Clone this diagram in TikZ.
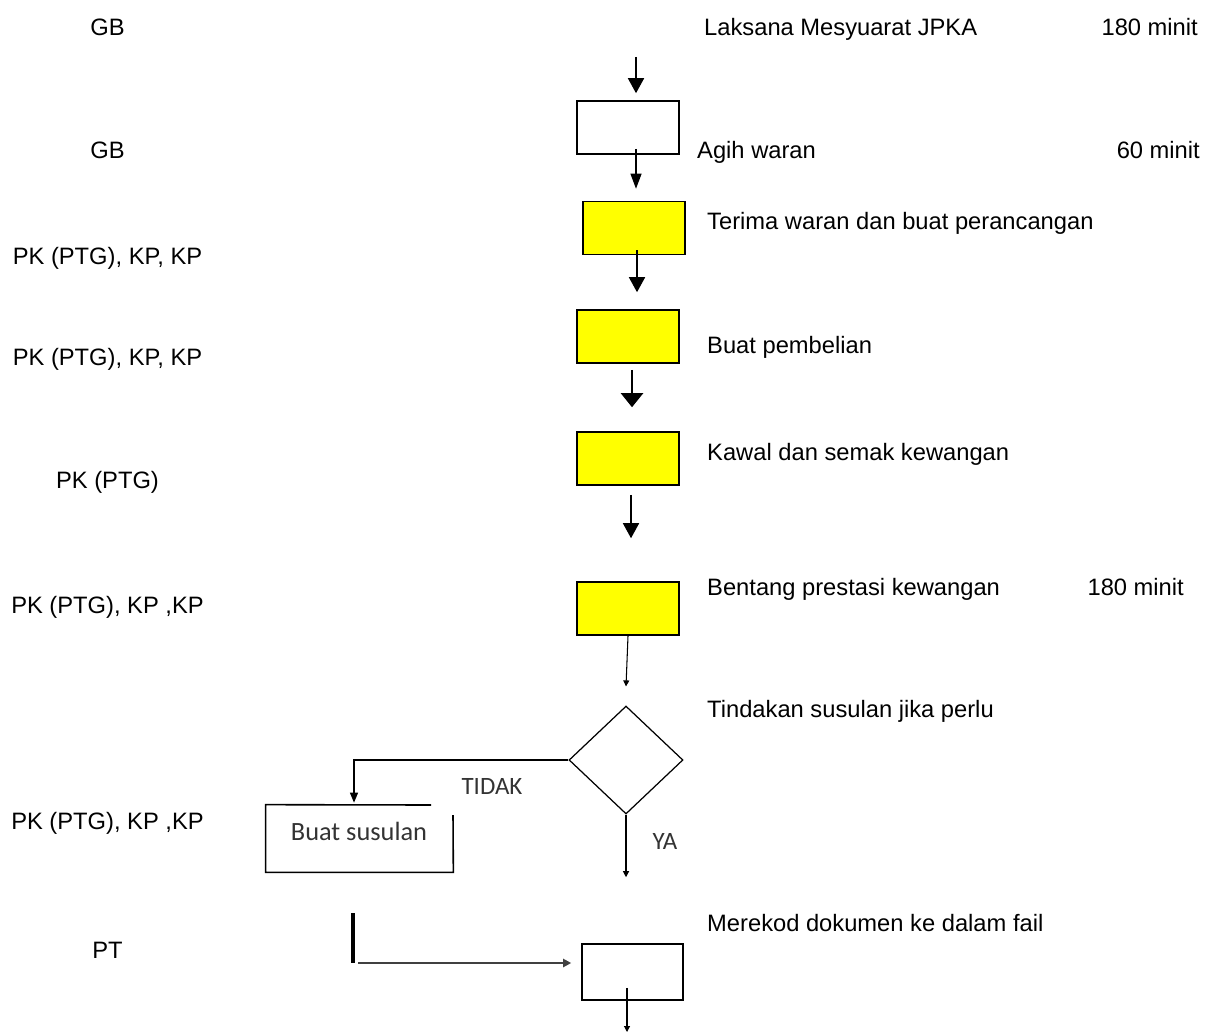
\documentclass[tikz,border=0pt]{standalone}
\usepackage{fontspec}
\setmainfont{Liberation Sans}
\newfontfamily\calibrifont{Carlito}
\usetikzlibrary{positioning,arrows.meta,calc,shapes.geometric}
\definecolor{boxyellow}{HTML}{FFFF00}
\definecolor{scangray}{HTML}{333333}
\definecolor{feedgray}{HTML}{404040}

\begin{document}
\begin{tikzpicture}[x=0.02cm,y=-0.02cm,
    font=\fontsize{13.5}{16}\selectfont,
    stepbox/.style={draw=black, line width=0.9pt, minimum width=2.04cm, minimum height=1.06cm, inner sep=0pt},
    yellowbox/.style={stepbox, fill=boxyellow},
    who/.style={anchor=base},
    task/.style={anchor=base west},
    tempo/.style={anchor=base east},
    bigarr/.style={line width=0.9pt, -{Triangle[length=0.3cm,width=0.32cm]}},
    midarr/.style={line width=0.6pt, -{Triangle[length=0.3cm,width=0.22cm]}},
    fatarr/.style={line width=1.3pt, -{Triangle[length=0.28cm,width=0.44cm]}},
    smallarr/.style={line width=0.6pt, -{Triangle[length=0.12cm,width=0.12cm]}},
    scanned/.style={anchor=base, text=scangray, font=\calibrifont\fontsize{14.2}{17}\selectfont}]
  \useasboundingbox (0,0) rectangle (1209,1034);
  % Who does each step
  \node[who] (w1) at (107.5,36) {GB};
  \node[who] (w2) at (107.5,158) {GB};
  \node[who] (w3) at (107.5,264) {PK (PTG), KP, KP};
  \node[who] (w4) at (107.5,365) {PK (PTG), KP, KP};
  \node[who] (w5) at (107.5,488) {PK (PTG)};
  \node[who] (w6) at (107.5,613) {PK (PTG), KP ,KP};
  \node[who] (w7) at (107.5,829) {PK (PTG), KP ,KP};
  \node[who] (w8) at (107.5,958) {PT};
  % Steps
  \node[task] (t1) at (698,36) {Laksana Mesyuarat JPKA};
  \node[task] (t2) at (691,158) {Agih waran};
  \node[task] (t3) at (701,229) {Terima waran dan buat perancangan};
  \node[task] (t4) at (701,353) {Buat pembelian};
  \node[task] (t5) at (701,460) {Kawal dan semak kewangan};
  \node[task] (t6) at (701,595) {Bentang prestasi kewangan};
  \node[task] (t7) at (701,717) {Tindakan susulan jika perlu};
  \node[task] (t8) at (701,931) {Merekod dokumen ke dalam fail};
  % Time taken
  \node[tempo] (m1) at (1204,36) {180 minit};
  \node[tempo] (m2) at (1206,158) {60 minit};
  \node[tempo] (m3) at (1190,595) {180 minit};
  % Flow boxes
  \node[stepbox] (agih) at (628,127.5) {};
  \node[yellowbox] (terima) at (634,228) {};
  \node[yellowbox] (beli) at (628,336.5) {};
  \node[yellowbox] (kawal) at (628,458.5) {};
  \node[yellowbox] (bentang) at (628,608.5) {};
  \node[draw, diamond, line width=0.7pt, minimum width=2.28cm, minimum height=2.16cm, inner sep=0pt] (semak) at (626,760) {};
  \node[draw=none, minimum width=3.74cm, minimum height=1.34cm, inner sep=0pt] (susulan) at (359.5,838.5) {};
  \draw[line width=0.9pt] (431,805) -- (susulan.north west) -- (susulan.south west) -- (susulan.south east) -- (453,815);
  \node[scanned, font=\calibrifont\fontsize{15}{18}\selectfont] (susulantext) at (359,840) {Buat susulan};
  \node[stepbox, minimum width=2.02cm, minimum height=1.12cm] (rekod) at (632.5,972) {};
  % Arrows down the middle
  \coordinate (start) at (636,57);
  \draw[bigarr, shorten >=0.14cm] (start) -- (start |- agih.north);
  \draw[midarr] ([shift={(8,-6)}]agih.south) -- ([shift={(2,-12)}]terima.north);
  \draw[bigarr] ([shift={(3,-5)}]terima.south) -- ([shift={(9,-17)}]beli.north);
  \draw[fatarr] ([shift={(4,6)}]beli.south) -- ([shift={(4,-24)}]kawal.north);
  \draw[bigarr] ([shift={(3,9)}]kawal.south) -- ([shift={(3,-43)}]bentang.north);
  \draw[smallarr] (bentang.south) -- ([shift={(0,-19)}]semak.north);
  % Decision branches
  \draw[line width=0.7pt, -{Triangle[length=0.2cm,width=0.16cm]}] (semak.west) -| ([shift={(-5.5,-2)}]susulan.north);
  \node[scanned] (tidak) at (492,794) {TIDAK};
  \draw[smallarr] (semak.south) -- ([shift={(-6.5,-66)}]rekod.north);
  \node[scanned] (ya) at (665,849) {YA};
  % Return into the last box
  \coordinate (bartop) at (353,913);
  \coordinate (barfoot) at (353,963);
  \draw[line width=0.08cm] (bartop) -- (barfoot);
  \draw[feedgray, line width=1.3pt, -{Triangle[length=0.16cm,width=0.16cm]}, shorten <=0.1cm, shorten >=0.2cm] (barfoot) -- (barfoot -| rekod.west);
  \coordinate (end) at (627,1032);
  \draw[smallarr] ([shift={(-5.5,-13)}]rekod.south) -- (end);
\end{tikzpicture}
\end{document}
